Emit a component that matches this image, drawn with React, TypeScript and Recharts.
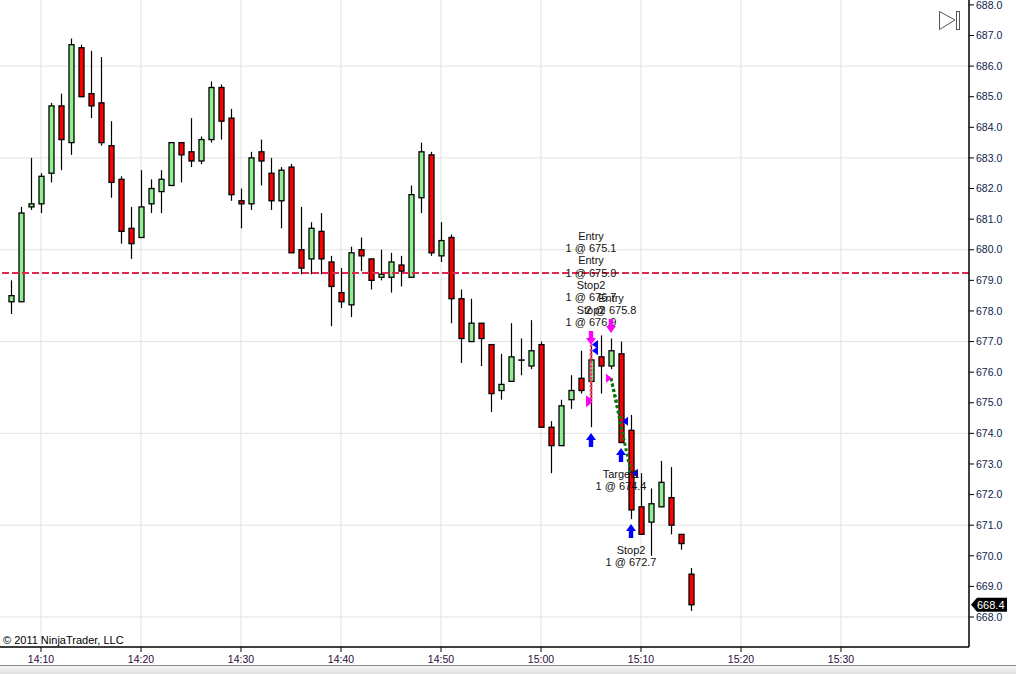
import React from "react";
import {
  ComposedChart,
  Bar,
  XAxis,
  YAxis,
  CartesianGrid,
  ReferenceLine,
  ReferenceDot,
} from "recharts";

// 1-minute bars, 14:07 .. 15:15
const times = [
  "14:07", "14:08", "14:09", "14:10", "14:11", "14:12", "14:13", "14:14", "14:15", "14:16",
  "14:17", "14:18", "14:19", "14:20", "14:21", "14:22", "14:23", "14:24", "14:25", "14:26",
  "14:27", "14:28", "14:29", "14:30", "14:31", "14:32", "14:33", "14:34", "14:35", "14:36",
  "14:37", "14:38", "14:39", "14:40", "14:41", "14:42", "14:43", "14:44", "14:45", "14:46",
  "14:47", "14:48", "14:49", "14:50", "14:51", "14:52", "14:53", "14:54", "14:55", "14:56",
  "14:57", "14:58", "14:59", "15:00", "15:01", "15:02", "15:03", "15:04", "15:05", "15:06",
  "15:07", "15:08", "15:09", "15:10", "15:11", "15:12", "15:13", "15:14", "15:15",
];
const opens = [
  678.3, 678.3, 681.4, 681.5, 682.5, 684.7, 683.5, 686.6, 685.1, 684.8,
  683.4, 682.3, 680.7, 680.4, 681.5, 681.9, 682.1, 683.5, 683.2, 682.9,
  683.6, 685.3, 684.3, 681.6, 681.5, 683.2, 682.5, 681.6, 682.7, 680.0,
  679.7, 680.6, 679.6, 678.6, 678.2, 680.0, 679.7, 679.1, 679.1, 679.5,
  679.1, 681.7, 683.1, 679.8, 680.4, 678.4, 677.0, 677.6, 676.9, 675.4,
  675.7, 676.4, 676.2, 676.9, 674.2, 673.6, 675.1, 675.8, 675.7, 676.5,
  676.2, 676.6, 674.1, 671.6, 671.1, 671.6, 671.9, 670.7, 669.4,
];
const highs = [
  679.0, 681.4, 683.0, 682.5, 684.8, 685.1, 686.9, 686.7, 686.5, 686.3,
  684.2, 682.4, 681.4, 682.6, 682.3, 682.6, 683.5, 683.5, 684.3, 683.7,
  685.5, 685.4, 684.6, 682.0, 683.2, 683.6, 683.0, 682.7, 682.8, 681.4,
  680.9, 681.2, 679.8, 679.4, 680.1, 680.4, 679.7, 680.0, 679.9, 679.8,
  682.1, 683.5, 683.2, 680.9, 680.5, 678.7, 678.4, 677.6, 676.9, 676.6,
  677.6, 677.1, 677.7, 677.0, 674.4, 675.1, 675.9, 676.7, 676.9, 677.2,
  677.1, 677.0, 674.6, 672.7, 672.2, 673.1, 672.9, 670.7, 669.6,
];
const lows = [
  677.9, 678.3, 681.3, 681.2, 682.2, 682.6, 683.1, 685.0, 684.3, 683.4,
  681.7, 680.2, 679.7, 680.4, 681.2, 681.2, 682.1, 682.2, 682.7, 682.8,
  683.5, 683.6, 681.6, 680.7, 681.3, 682.1, 681.3, 680.7, 679.9, 679.2,
  679.2, 679.2, 677.5, 678.1, 677.8, 679.3, 678.7, 679.0, 678.6, 678.8,
  679.1, 681.2, 679.8, 679.6, 677.6, 676.3, 677.0, 676.2, 674.7, 675.1,
  675.7, 675.9, 676.1, 674.2, 672.7, 673.6, 674.8, 675.3, 674.2, 675.3,
  676.1, 673.7, 671.2, 670.7, 670.0, 671.6, 670.7, 670.2, 668.2,
];
const closes = [
  678.5, 681.2, 681.5, 682.4, 684.7, 683.6, 686.7, 685.0, 684.7, 683.5,
  682.2, 680.6, 680.2, 681.4, 682.0, 682.3, 683.5, 683.1, 682.9, 683.6,
  685.3, 684.2, 681.8, 681.5, 683.0, 682.9, 681.6, 682.6, 679.9, 679.4,
  680.7, 679.7, 678.8, 678.3, 679.9, 679.8, 679.0, 679.2, 679.6, 679.3,
  681.8, 683.2, 679.9, 680.3, 678.4, 677.1, 677.6, 677.1, 675.3, 675.6,
  676.5, 676.4, 676.7, 674.2, 673.6, 674.9, 675.4, 675.4, 676.4, 676.2,
  676.7, 673.7, 671.5, 670.7, 671.7, 672.4, 671.0, 670.4, 668.4,
];

const timeTicks = ["14:10", "14:20", "14:30", "14:40", "14:50", "15:00", "15:10", "15:20", "15:30"];
const priceTicks = [
  668, 669, 670, 671, 672, 673, 674, 675, 676, 677, 678,
  679, 680, 681, 682, 683, 684, 685, 686, 687, 688,
];
const gridPrices = [668, 671, 674, 677, 680, 683, 686];
const stopLevel = 679.24;
const lastPrice = 668.4;

// executions
const sellArrows = [
  { time: "15:05", price: 676.89, text: ["Entry", "1 @ 675.1", "Entry", "1 @ 675.0", "Stop2", "1 @ 676.7", "Stop2", "1 @ 676.9"] },
  { time: "15:07", price: 677.28, text: ["Entry", "2 @ 675.8"] },
];
const buyArrows = [
  { time: "15:05", price: 674.01, text: [] as string[] },
  { time: "15:08", price: 673.52, text: ["Target1", "1 @ 674.4"] },
  { time: "15:09", price: 671.04, text: ["Stop2", "1 @ 672.7"] },
];
const entryFills = [
  { time: "15:05", price: 675.1 },
  { time: "15:05", price: 675.0 },
  { time: "15:07", price: 675.8 },
];
const exitFills = [
  { time: "15:05", price: 676.7 },
  { time: "15:05", price: 676.9 },
  { time: "15:08", price: 674.4 },
  { time: "15:09", price: 672.7 },
];
const tradeLines = [
  { t1: "15:05", p1: 675.1, t2: "15:05", p2: 676.7, win: false },
  { t1: "15:05", p1: 675.0, t2: "15:05", p2: 676.9, win: false },
  { t1: "15:07", p1: 675.8, t2: "15:08", p2: 674.4, win: true },
  { t1: "15:07", p1: 675.8, t2: "15:09", p2: 672.7, win: true },
];

const toMin = (s: string) => {
  const [h, m] = s.split(":").map(Number);
  return (h - 14) * 60 + m;
};
const fmtMin = (v: number) => {
  const h = 14 + Math.floor(v / 60);
  const m = Math.round(v % 60);
  return `${h}:${String(m).padStart(2, "0")}`;
};

const xDomain: [number, number] = [5.9, 102.8];
const yDomain: [number, number] = [667.02, 688.16];

const data = times.map((t, i) => ({
  t: toMin(t),
  range: [lows[i], highs[i]],
  open: opens[i],
  high: highs[i],
  low: lows[i],
  close: closes[i],
}));

const FONT = '"Liberation Sans", Arial, sans-serif';

const Candle = (props: any) => {
  const { x, y, width, height, payload } = props;
  const { open, close, high, low } = payload;
  const top0 = Math.min(y, y + height);
  const h = Math.abs(height);
  const cx = Math.round(x + width / 2) + 0.5;
  const k = h / (high - low);
  const yOf = (p: number) => top0 + (high - p) * k;
  const bTop = yOf(Math.max(open, close));
  const bBot = yOf(Math.min(open, close));
  const up = close >= open;
  return (
    <g>
      <line x1={cx} x2={cx} y1={top0} y2={top0 + h} stroke="#000" strokeWidth={1.2} />
      <rect
        x={cx - 2.5}
        y={bTop}
        width={5}
        height={Math.max(bBot - bTop, 0.3)}
        fill={up ? "#90ee90" : "#ff0000"}
        stroke="#000"
        strokeWidth={1.3}
      />
    </g>
  );
};

const labelStyle = { fontFamily: FONT, fontSize: 11, fill: "#111" };

const sellShape = (lines: string[]) => (p: any) => {
  const { cx, cy } = p;
  const n = lines.length;
  return (
    <g>
      <polygon
        points={`${cx},${cy} ${cx - 5},${cy - 7} ${cx - 2.2},${cy - 7} ${cx - 2.2},${cy - 14} ${cx + 2.2},${cy - 14} ${cx + 2.2},${cy - 7} ${cx + 5},${cy - 7}`}
        fill="#ff00ff"
      />
      {lines.map((s, i) => (
        <text key={i} x={cx} y={cy - 23 - (n - 1 - i) * 12.3} dy="0.36em" textAnchor="middle" {...labelStyle}>
          {s}
        </text>
      ))}
    </g>
  );
};

const buyShape = (lines: string[]) => (p: any) => {
  const { cx, cy } = p;
  return (
    <g>
      <polygon
        points={`${cx},${cy} ${cx - 5},${cy + 7} ${cx - 2.2},${cy + 7} ${cx - 2.2},${cy + 14} ${cx + 2.2},${cy + 14} ${cx + 2.2},${cy + 7} ${cx + 5},${cy + 7}`}
        fill="#0000ff"
      />
      {lines.map((s, i) => (
        <text key={i} x={cx} y={cy + 26 + i * 12.3} dy="0.36em" textAnchor="middle" {...labelStyle}>
          {s}
        </text>
      ))}
    </g>
  );
};

const entryTri = (p: any) => {
  const { cx, cy } = p;
  return <polygon points={`${cx - 5},${cy - 4.5} ${cx + 1},${cy} ${cx - 5},${cy + 4.5}`} fill="#ff00ff" />;
};
const exitTri = (p: any) => {
  const { cx, cy } = p;
  return <polygon points={`${cx + 7},${cy - 4.5} ${cx + 1},${cy} ${cx + 7},${cy + 4.5}`} fill="#0000ff" />;
};

const priceTag = (p: any) => {
  const { cx, cy } = p;
  return (
    <g>
      <polygon
        points={`${cx + 2},${cy} ${cx + 8},${cy - 7} ${cx + 38},${cy - 7} ${cx + 38},${cy + 7} ${cx + 8},${cy + 7}`}
        fill="#000"
      />
      <text x={cx + 8} y={cy} dy="0.36em" fontFamily={FONT} fontSize={11} fill="#fff">
        {lastPrice.toFixed(1)}
      </text>
    </g>
  );
};

export default function App() {
  return (
    <div style={{ position: "absolute", left: 0, top: 0, width: 1016, height: 674, background: "#fff", overflow: "hidden" }}>
      <ComposedChart width={1016} height={674} data={data} margin={{ top: 0, right: 0, bottom: 0, left: 0 }}>
        <CartesianGrid
          stroke="#e2e2e2"
          horizontalValues={gridPrices}
          verticalValues={timeTicks.map(toMin)}
        />
        <XAxis
          dataKey="t"
          type="number"
          domain={xDomain}
          allowDataOverflow
          ticks={timeTicks.map(toMin)}
          tickFormatter={fmtMin}
          height={27}
          tickSize={5}
          tickMargin={4}
          axisLine={{ stroke: "#000", strokeWidth: 1.5 }}
          tickLine={{ stroke: "#000" }}
          tick={{ fontFamily: FONT, fontSize: 10.5, fill: "#2d0a3c" }}
        />
        <YAxis
          orientation="right"
          type="number"
          domain={yDomain}
          allowDataOverflow
          ticks={priceTicks}
          tickFormatter={(v: number) => v.toFixed(1)}
          width={47}
          tickSize={5}
          tickMargin={2}
          axisLine={{ stroke: "#000", strokeWidth: 1.5 }}
          tickLine={{ stroke: "#000" }}
          tick={{ fontFamily: FONT, fontSize: 10.5, fill: "#0c1c4c", textAnchor: "start" }}
        />
        <ReferenceLine y={stopLevel} stroke="#e02850" strokeWidth={2} strokeDasharray="7 3" />
        <Bar dataKey="range" barSize={7} shape={Candle} isAnimationActive={false} />
        {tradeLines.map((l, i) => (
          <ReferenceLine
            key={"tl" + i}
            segment={[
              { x: toMin(l.t1), y: l.p1 },
              { x: toMin(l.t2), y: l.p2 },
            ]}
            stroke={l.win ? "#0a780a" : "#f03c64"}
            strokeWidth={l.win ? 3 : 2.5}
            strokeDasharray={l.win ? "3 2.5" : "2 2"}
          />
        ))}
        {entryFills.map((f, i) => (
          <ReferenceDot key={"ef" + i} x={toMin(f.time)} y={f.price} r={0} shape={entryTri} />
        ))}
        {exitFills.map((f, i) => (
          <ReferenceDot key={"xf" + i} x={toMin(f.time)} y={f.price} r={0} shape={exitTri} />
        ))}
        {sellArrows.map((a, i) => (
          <ReferenceDot key={"sa" + i} x={toMin(a.time)} y={a.price} r={0} shape={sellShape(a.text)} />
        ))}
        {buyArrows.map((a, i) => (
          <ReferenceDot key={"ba" + i} x={toMin(a.time)} y={a.price} r={0} shape={buyShape(a.text)} />
        ))}
        <ReferenceDot x={xDomain[1]} y={lastPrice} r={0} ifOverflow="visible" shape={priceTag} />
      </ComposedChart>

      <div
        style={{
          position: "absolute",
          left: 3,
          top: 634,
          fontFamily: FONT,
          fontSize: 11,
          color: "#000",
          whiteSpace: "nowrap",
        }}
      >
        © 2011 NinjaTrader, LLC
      </div>

      <svg style={{ position: "absolute", left: 936, top: 8 }} width={26} height={26}>
        <polygon points="3.5,3.5 19,12 3.5,21.5" fill="none" stroke="#555" strokeWidth={1} />
        <rect x={20.5} y={3.5} width={3} height={18} fill="none" stroke="#555" strokeWidth={1} />
      </svg>

      <div
        style={{
          position: "absolute",
          left: 0,
          top: 665,
          width: 1016,
          height: 9,
          borderTop: "1px solid #8a8a8a",
          background: "linear-gradient(#f6f6f6, #dedede)",
        }}
      />
    </div>
  );
}
